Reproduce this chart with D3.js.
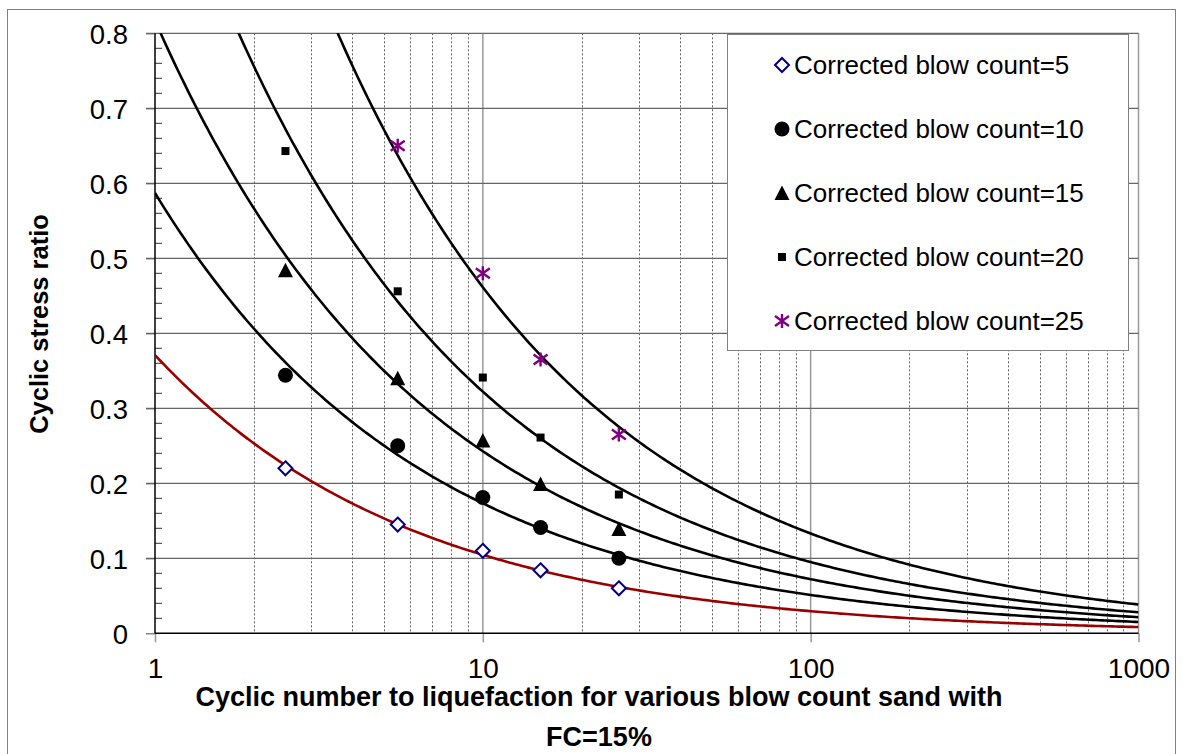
<!DOCTYPE html>
<html>
<head>
<meta charset="utf-8">
<script src="https://cdn.jsdelivr.net/npm/d3@7"></script>
<style>
  html, body { margin: 0; padding: 0; background: #fff; }
  svg { display: block; }
  text { font-family: "Liberation Sans", Arial, sans-serif; fill: #000; }
</style>
</head>
<body>
<svg id="chart" width="1183" height="754"></svg>
<script>
// ---------------- data ----------------
const cycles = [2.5, 5.5, 10, 15, 26];
const seriesNames = [
  "Corrected blow count=5",
  "Corrected blow count=10",
  "Corrected blow count=15",
  "Corrected blow count=20",
  "Corrected blow count=25"
];
const csrN5  = [0.220, 0.145, 0.110, 0.084, 0.060];
const csrN10 = [0.344, 0.250, 0.181, 0.141, 0.100];
const csrN15 = [0.484, 0.340, 0.257, 0.199, 0.139];
const csrN20 = [0.643, 0.456, 0.341, 0.261, 0.185];
const csrN25 = [null, 0.650, 0.480, 0.365, 0.265];
// power trendlines CSR = a * N^b
const trendA = [0.371, 0.587, 0.817, 1.093, 1.60];
const trendB = [-0.550, -0.530, -0.527, -0.5305, -0.540];
const xTickValues = [1, 10, 100, 1000];
const yTickValues = [0, 0.1, 0.2, 0.3, 0.4, 0.5, 0.6, 0.7, 0.8];
const xTitleLines = ["Cyclic number to liquefaction for various blow count sand with", "FC=15%"];
const yTitle = "Cyclic stress ratio";

const seriesValues = [csrN5, csrN10, csrN15, csrN20, csrN25];
const markerTypes = ["diamond", "circle", "triangle", "square", "star"];
const curveColors = ["#990000", "#000", "#000", "#000", "#000"];

// ---------------- layout ----------------
const svg = d3.select("#chart");
const L = 155, R = 1138.5, T = 33.3, B = 633.3;
const x = d3.scaleLog().domain([1, 1000]).range([L, R]);
const y = d3.scaleLinear().domain([0, 0.8]).range([B, T]);

svg.append("rect").attr("width", 1183).attr("height", 754).attr("fill", "#fff");
svg.append("rect").attr("x", 7.5).attr("y", 9.5).attr("width", 1168).attr("height", 760)
  .attr("fill", "none").attr("stroke", "#808080").attr("stroke-width", 1);

svg.append("defs").append("clipPath").attr("id", "plotClip")
  .append("rect").attr("x", L).attr("y", T).attr("width", R - L).attr("height", B - T);

// gridlines
const grid = svg.append("g");
const allX = [];
[1, 10, 100].forEach(d => { for (let k = 2; k <= 9; k++) allX.push(d * k); });
grid.selectAll("line.minor").data(allX).join("line")
  .attr("x1", d => Math.round(x(d)) + 0.5).attr("x2", d => Math.round(x(d)) + 0.5)
  .attr("y1", T).attr("y2", B)
  .attr("stroke", "#666").attr("stroke-width", 1).attr("stroke-dasharray", "2,2");
grid.selectAll("line.major").data([10, 100, 1000]).join("line")
  .attr("x1", d => x(d)).attr("x2", d => x(d))
  .attr("y1", T).attr("y2", B)
  .attr("stroke", "#9a9a9a").attr("stroke-width", 1.5);
grid.selectAll("line.h").data(yTickValues.slice(1)).join("line")
  .attr("x1", L - 9).attr("x2", R)
  .attr("y1", d => y(d)).attr("y2", d => y(d))
  .attr("stroke", "#666").attr("stroke-width", 1.2);

// y minor ticks (inside)
const yMinor = d3.range(0, 41).map(i => i * 0.02).filter((d, i) => i % 5 !== 0);
svg.append("g").selectAll("line").data(yMinor).join("line")
  .attr("x1", L).attr("x2", L + 7)
  .attr("y1", d => y(d)).attr("y2", d => y(d))
  .attr("stroke", "#333").attr("stroke-width", 1);

// axes
const yAxis = d3.axisLeft(y).tickValues(yTickValues).tickSize(9).tickPadding(18)
  .tickFormat(d => d === 0 ? "0" : d3.format(".1f")(d));
const gy = svg.append("g").attr("transform", `translate(${L},0)`).call(yAxis);
gy.select(".domain").remove();
gy.selectAll(".tick line").attr("stroke", "#666").attr("stroke-width", 1.2);
gy.selectAll(".tick text").attr("font-size", 27.5).attr("font-family", "Liberation Sans, Arial, sans-serif")
  .attr("fill", "#000").attr("dy", "0.36em");

const xAxis = d3.axisBottom(x).tickValues(xTickValues).tickSize(9).tickPadding(10)
  .tickFormat(d3.format("d"));
const gx = svg.append("g").attr("transform", `translate(0,${B})`).call(xAxis);
gx.select(".domain").remove();
gx.selectAll(".tick line").attr("stroke", "#999").attr("stroke-width", 1.5);
gx.selectAll(".tick text").attr("font-size", 28).attr("font-family", "Liberation Sans, Arial, sans-serif")
  .attr("fill", "#000").attr("y", 45).attr("dy", 0);

svg.append("line").attr("x1", L).attr("x2", L).attr("y1", T).attr("y2", B)
  .attr("stroke", "#000").attr("stroke-width", 1.5);
svg.append("line").attr("x1", L).attr("x2", R).attr("y1", B).attr("y2", B)
  .attr("stroke", "#000").attr("stroke-width", 1.5);

// trendlines
const curveG = svg.append("g").attr("clip-path", "url(#plotClip)");
const sampleN = d3.range(0, 301).map(i => Math.pow(10, i * 3 / 300));
const line = d3.line().x(d => x(d[0])).y(d => y(d[1]));
trendA.forEach((a, i) => {
  const pts = sampleN.map(n => [n, a * Math.pow(n, trendB[i])]);
  curveG.append("path").attr("d", line(pts)).attr("fill", "none")
    .attr("stroke", curveColors[i]).attr("stroke-width", 2.6);
});

// markers
function drawMarker(g, type) {
  if (type === "diamond") {
    g.append("path").attr("d", "M0,-7L7,0L0,7L-7,0Z")
      .attr("fill", "#fff").attr("stroke", "#000080").attr("stroke-width", 2);
  } else if (type === "circle") {
    g.append("circle").attr("r", 7.5).attr("fill", "#000");
  } else if (type === "triangle") {
    g.append("path").attr("d", "M0,-7.5L7.5,7L-7.5,7Z").attr("fill", "#000");
  } else if (type === "square") {
    g.append("rect").attr("x", -4).attr("y", -4).attr("width", 8).attr("height", 8).attr("fill", "#000");
  } else if (type === "star") {
    g.append("path").attr("d", "M-7,-5L7,5M-7,5L7,-5M0,-7L0,7")
      .attr("stroke", "#800080").attr("stroke-width", 2.4).attr("fill", "none");
  }
}
const markG = svg.append("g").attr("clip-path", "url(#plotClip)");
seriesValues.forEach((vals, i) => {
  vals.forEach((v, j) => {
    if (v == null) return;
    const g = markG.append("g").attr("transform", `translate(${x(cycles[j])},${y(v)})`);
    drawMarker(g, markerTypes[i]);
  });
});

// legend
const lg = svg.append("g");
lg.append("rect").attr("x", 727.5).attr("y", 34.5).attr("width", 401).attr("height", 316)
  .attr("fill", "#fff").attr("stroke", "#808080").attr("stroke-width", 1);
seriesNames.forEach((name, i) => {
  const cy = 65 + i * 64;
  const g = lg.append("g").attr("transform", `translate(782,${cy})`);
  drawMarker(g, markerTypes[i]);
  lg.append("text").attr("x", 794).attr("y", cy + 9).attr("font-size", 26).text(name);
});

// titles
const xt = svg.append("text").attr("text-anchor", "middle")
  .attr("font-size", 27).attr("font-weight", "bold");
xt.append("tspan").attr("x", 599).attr("y", 706).text(xTitleLines[0]);
xt.append("tspan").attr("x", 599).attr("y", 746).text(xTitleLines[1]);

svg.append("text").attr("transform", "translate(48,324) rotate(-90)")
  .attr("text-anchor", "middle").attr("font-size", 25.5).attr("font-weight", "bold").text(yTitle);
</script>
</body>
</html>
